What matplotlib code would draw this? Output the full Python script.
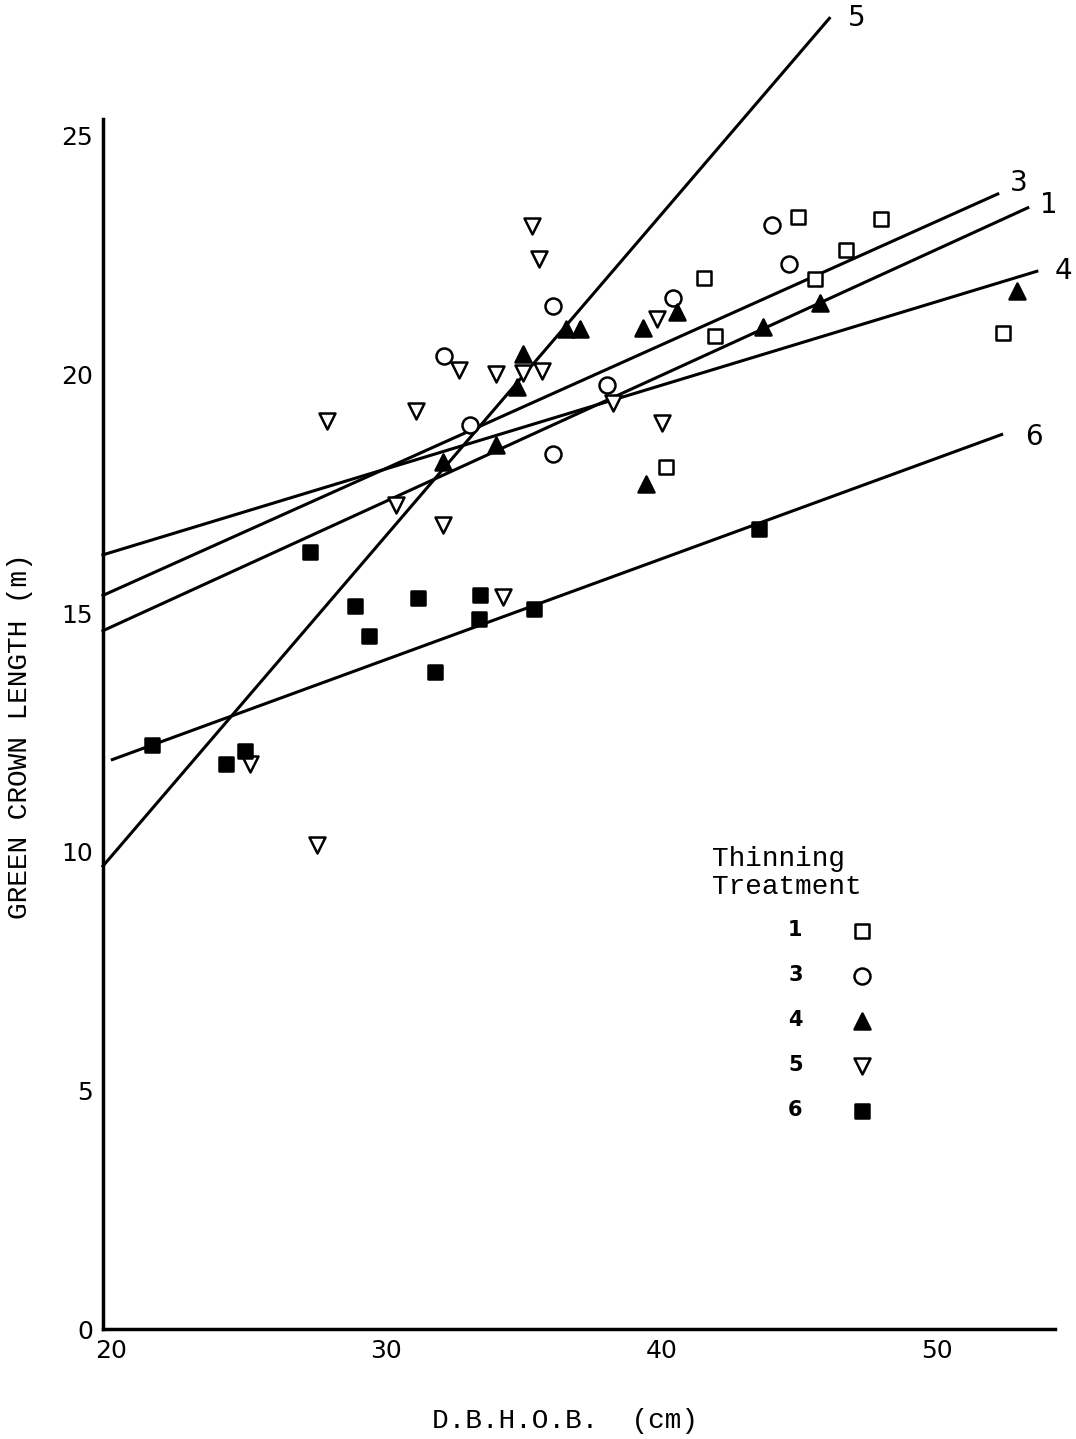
import matplotlib
matplotlib.use("Agg")
import matplotlib.pyplot as plt

# green crown length (m) against d.b.h.o.b. (cm), by thinning treatment
t1_dbh = [41.56, 44.95, 45.56, 46.69, 47.96, 41.93, 40.15, 52.40]
t1_gcl = [22.02, 23.30, 22.00, 22.61, 23.26, 20.80, 18.05, 20.86]

t3_dbh = [32.11, 33.05, 36.07, 36.07, 38.00, 40.40, 44.00, 44.62]
t3_gcl = [20.38, 18.95, 21.43, 18.34, 19.77, 21.60, 23.13, 22.31]

t4_dbh = [32.04, 34.00, 34.76, 34.95, 36.51, 37.02, 39.31, 40.55, 39.45, 43.67, 45.75, 52.91]
t4_gcl = [18.17, 18.53, 19.73, 20.42, 20.95, 20.95, 20.97, 21.30, 17.71, 21.00, 21.49, 21.74]

t5_dbh = [25.05, 27.49, 27.85, 31.09, 30.36, 32.04, 32.65, 34.00, 34.95, 35.67, 35.31, 35.53,
          34.22, 38.25, 39.85, 40.00]
t5_gcl = [11.83, 10.15, 19.03, 19.24, 17.27, 16.85, 20.10, 20.00, 20.02, 20.08, 23.11, 22.42,
          15.34, 19.39, 21.16, 18.99]

t6_dbh = [21.49, 24.18, 24.87, 27.24, 28.87, 29.38, 31.16, 31.78, 33.42, 33.38, 35.35, 43.53]
t6_gcl = [12.23, 11.83, 12.12, 16.28, 15.15, 14.52, 15.32, 13.76, 15.38, 14.87, 15.08, 16.76]

# fitted lines, one per treatment
line_names = ["1", "3", "4", "5", "6"]
line_x0 = [19.70, 19.70, 19.70, 19.70, 20.04]
line_y0 = [14.63, 15.37, 16.22, 9.70, 11.93]
line_x1 = [53.31, 52.22, 53.64, 46.10, 52.36]
line_y1 = [23.49, 23.78, 22.16, 27.46, 18.74]

x_ticks = [20, 30, 40, 50]
y_ticks = [0, 5, 10, 15, 20, 25]

mono = ["Liberation Mono", "DejaVu Sans Mono"]

fig = plt.figure(figsize=(10.76, 14.39), dpi=100)
ax = fig.add_axes([0.0957, 0.0764, 0.8848, 0.8409])

series = [
    (t1_dbh, t1_gcl, "s", "white", 10, "1"),
    (t3_dbh, t3_gcl, "o", "white", 11.5, "3"),
    (t4_dbh, t4_gcl, "^", "black", 11.5, "4"),
    (t5_dbh, t5_gcl, "v", "white", 11.5, "5"),
    (t6_dbh, t6_gcl, "s", "black", 10, "6"),
]

for xs, ys, xs1, ys1, name in zip(line_x0, line_y0, line_x1, line_y1, line_names):
    ax.plot([xs, xs1], [ys, ys1], color="black", lw=2.2, clip_on=False, zorder=2)

handles = []
for xs, ys, mk, fc, ms, lab in series:
    h = ax.scatter(xs, ys, marker=mk, s=ms ** 2, facecolors=fc, edgecolors="black",
                   linewidths=1.8, zorder=3, label=lab, clip_on=False)
    handles.append(h)

# numbers at the end of each fitted line
label_off = [(9, 2), (9, 8), (13, 0), (13, 0), (17, -2)]
for name, xe, ye, off in zip(line_names, line_x1, line_y1, label_off):
    ax.annotate(name, (xe, ye), xytext=off, textcoords="offset points",
                ha="left", va="center", fontsize=20, annotation_clip=False)

ax.set_xlim(19.7, 54.3)
ax.set_ylim(0, 25.35)
ax.set_xticks(x_ticks)
ax.set_yticks(y_ticks)
ax.tick_params(length=0, labelsize=18, pad=7)

for side in ["top", "right"]:
    ax.spines[side].set_visible(False)
for side in ["left", "bottom"]:
    ax.spines[side].set_linewidth(2.5)

ax.set_ylabel("GREEN CROWN LENGTH (m)", family=mono, fontsize=20)
ax.yaxis.set_label_coords(-0.073, 0.49)
ax.set_xlabel("D.B.H.O.B.  (cm)", family=mono, fontsize=20)
ax.xaxis.set_label_coords(0.485, -0.065)

ax.text(0.640, 0.399, "Thinning\nTreatment", transform=ax.transAxes,
        ha="left", va="top", family=mono, fontsize=20, linespacing=1.1)

leg = ax.legend(handles=handles, labels=[s[5] for s in series], markerfirst=False,
                frameon=False, loc="upper left", bbox_to_anchor=(0.7195, 0.338),
                borderaxespad=0, borderpad=0, handlelength=1.0, handletextpad=2.35,
                labelspacing=1.2, prop={"size": 15, "weight": "bold"}, scatterpoints=1)

fig.savefig("out.png", dpi=100, facecolor="white")
